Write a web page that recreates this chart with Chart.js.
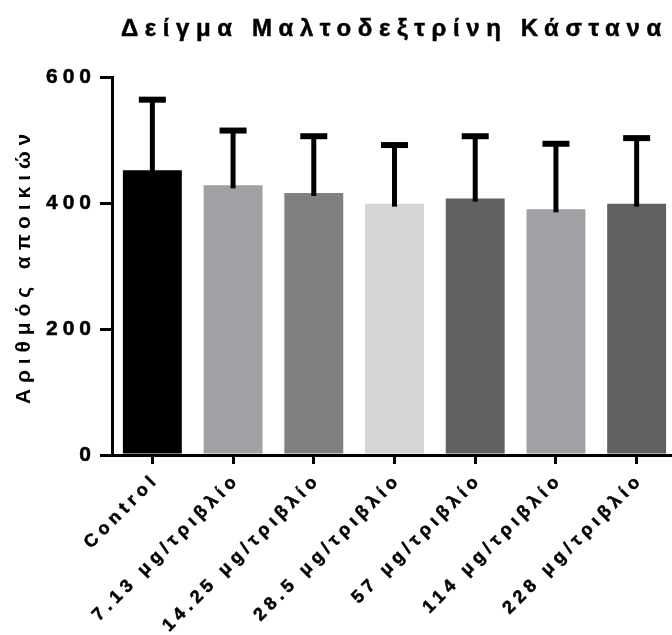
<!DOCTYPE html>
<html>
<head>
<meta charset="utf-8">
<script src="https://cdn.jsdelivr.net/npm/chart.js@4.4.1/dist/chart.umd.min.js"></script>
<style>
  html, body { margin: 0; padding: 0; overflow: hidden; background: #ffffff; }
  canvas { display: block; }
</style>
</head>
<body>
<canvas id="chart" width="677" height="635"></canvas>
<script>
// Colony counts per maltodextrin dose (mean and standard deviation)
const chartTitle = 'Δείγμα Μαλτοδεξτρίνη Κάστανα';
const yAxisTitle = 'Αριθμός αποικιών';
const categories = [
  'Control',
  '7.13 μg/τριβλίο',
  '14.25 μg/τριβλίο',
  '28.5 μg/τριβλίο',
  '57 μg/τριβλίο',
  '114 μg/τριβλίο',
  '228 μg/τριβλίο'
];
const means = [452, 428, 416, 399, 407, 390, 399];
const sds = [112, 87, 90, 93, 99, 104, 104];
const barColors = ['#000000', '#a1a0a4', '#808080', '#d5d5d5', '#616161', '#a1a0a4', '#616161'];
const yMin = 0, yMax = 600, yStep = 200;

const FONT = '"Liberation Sans", Arial, Helvetica, sans-serif';

// Wide letter spacing for axis text (per scale id)
const tickSpacing = { x: 4.8, y: 5 };
const titleSpacing = { y: 5.9 };
const proto = Chart.Scale.prototype;
function withSpacing(name, map) {
  const original = proto[name];
  proto[name] = function (...args) {
    const ctx = this.ctx;
    ctx.save();
    ctx.letterSpacing = (map[this.id] || 0) + 'px';
    try { return original.apply(this, args); }
    finally { ctx.restore(); }
  };
}
withSpacing('_computeLabelSizes', tickSpacing);
withSpacing('drawLabels', tickSpacing);
withSpacing('drawTitle', titleSpacing);

// Upper error bars (mean + SD) with a flat cap
const errorBars = {
  id: 'errorBars',
  afterDatasetsDraw(chart) {
    const ctx = chart.ctx;
    const yScale = chart.scales.y;
    const meta = chart.getDatasetMeta(0);
    ctx.save();
    ctx.strokeStyle = '#000000';
    ctx.lineCap = 'butt';
    meta.data.forEach((bar, i) => {
      const top = yScale.getPixelForValue(means[i] + sds[i]);
      ctx.lineWidth = 5;
      ctx.beginPath();
      ctx.moveTo(bar.x, bar.y + 3);
      ctx.lineTo(bar.x, top);
      ctx.stroke();
      ctx.lineWidth = 6;
      ctx.beginPath();
      ctx.moveTo(bar.x - 13.5, top);
      ctx.lineTo(bar.x + 13.5, top);
      ctx.stroke();
    });
    ctx.restore();
  }
};

// Letter-spaced chart heading
const spacedTitle = {
  id: 'spacedTitle',
  afterDraw(chart) {
    const ctx = chart.ctx;
    ctx.save();
    ctx.font = 'bold 24px ' + FONT;
    ctx.letterSpacing = '6.6px';
    ctx.fillStyle = '#000000';
    ctx.strokeStyle = '#000000';
    ctx.lineWidth = 0.5;
    ctx.textAlign = 'left';
    ctx.textBaseline = 'alphabetic';
    ctx.fillText(chartTitle, 121, 36);
    ctx.strokeText(chartTitle, 121, 36);
    ctx.restore();
  }
};

new Chart(document.getElementById('chart'), {
  type: 'bar',
  data: {
    labels: categories,
    datasets: [{
      data: means,
      backgroundColor: barColors,
      borderWidth: 0,
      categoryPercentage: 1,
      barPercentage: 0.73
    }]
  },
  options: {
    responsive: false,
    animation: false,
    devicePixelRatio: 1,
    layout: { padding: { top: 77, right: 0, bottom: 0, left: 0 } },
    plugins: {
      legend: { display: false },
      tooltip: { enabled: false },
      title: { display: false }
    },
    scales: {
      x: {
        type: 'category',
        offset: true,
        z: 1,
        grid: { offset: false, drawOnChartArea: false, drawTicks: true, tickLength: 9, lineWidth: 3, color: '#000000' },
        border: { display: true, width: 3, color: '#000000' },
        ticks: {
          autoSkip: false, maxRotation: 45, minRotation: 45, padding: 5, labelOffset: 4,
          color: '#000000', textStrokeColor: '#000000', textStrokeWidth: 0.5,
          font: { family: FONT, size: 18, weight: 'bold' }
        },
        afterFit(scale) { scale.height = 180; }
      },
      y: {
        type: 'linear',
        min: yMin, max: yMax,
        z: 1,
        grid: { drawOnChartArea: false, drawTicks: true, tickLength: 12, lineWidth: 3, color: '#000000' },
        border: { display: true, width: 3, color: '#000000' },
        ticks: {
          stepSize: yStep, padding: 4,
          color: '#000000', textStrokeColor: '#000000', textStrokeWidth: 0.5,
          font: { family: FONT, size: 21, weight: 'bold' }
        },
        title: {
          display: true, text: yAxisTitle, color: '#000000',
          font: { family: FONT, size: 21, weight: 'bold' },
          padding: { top: 12, bottom: 0 }
        },
        afterFit(scale) { scale.width = 112; }
      }
    }
  },
  plugins: [errorBars, spacedTitle]
});
</script>
</body>
</html>
